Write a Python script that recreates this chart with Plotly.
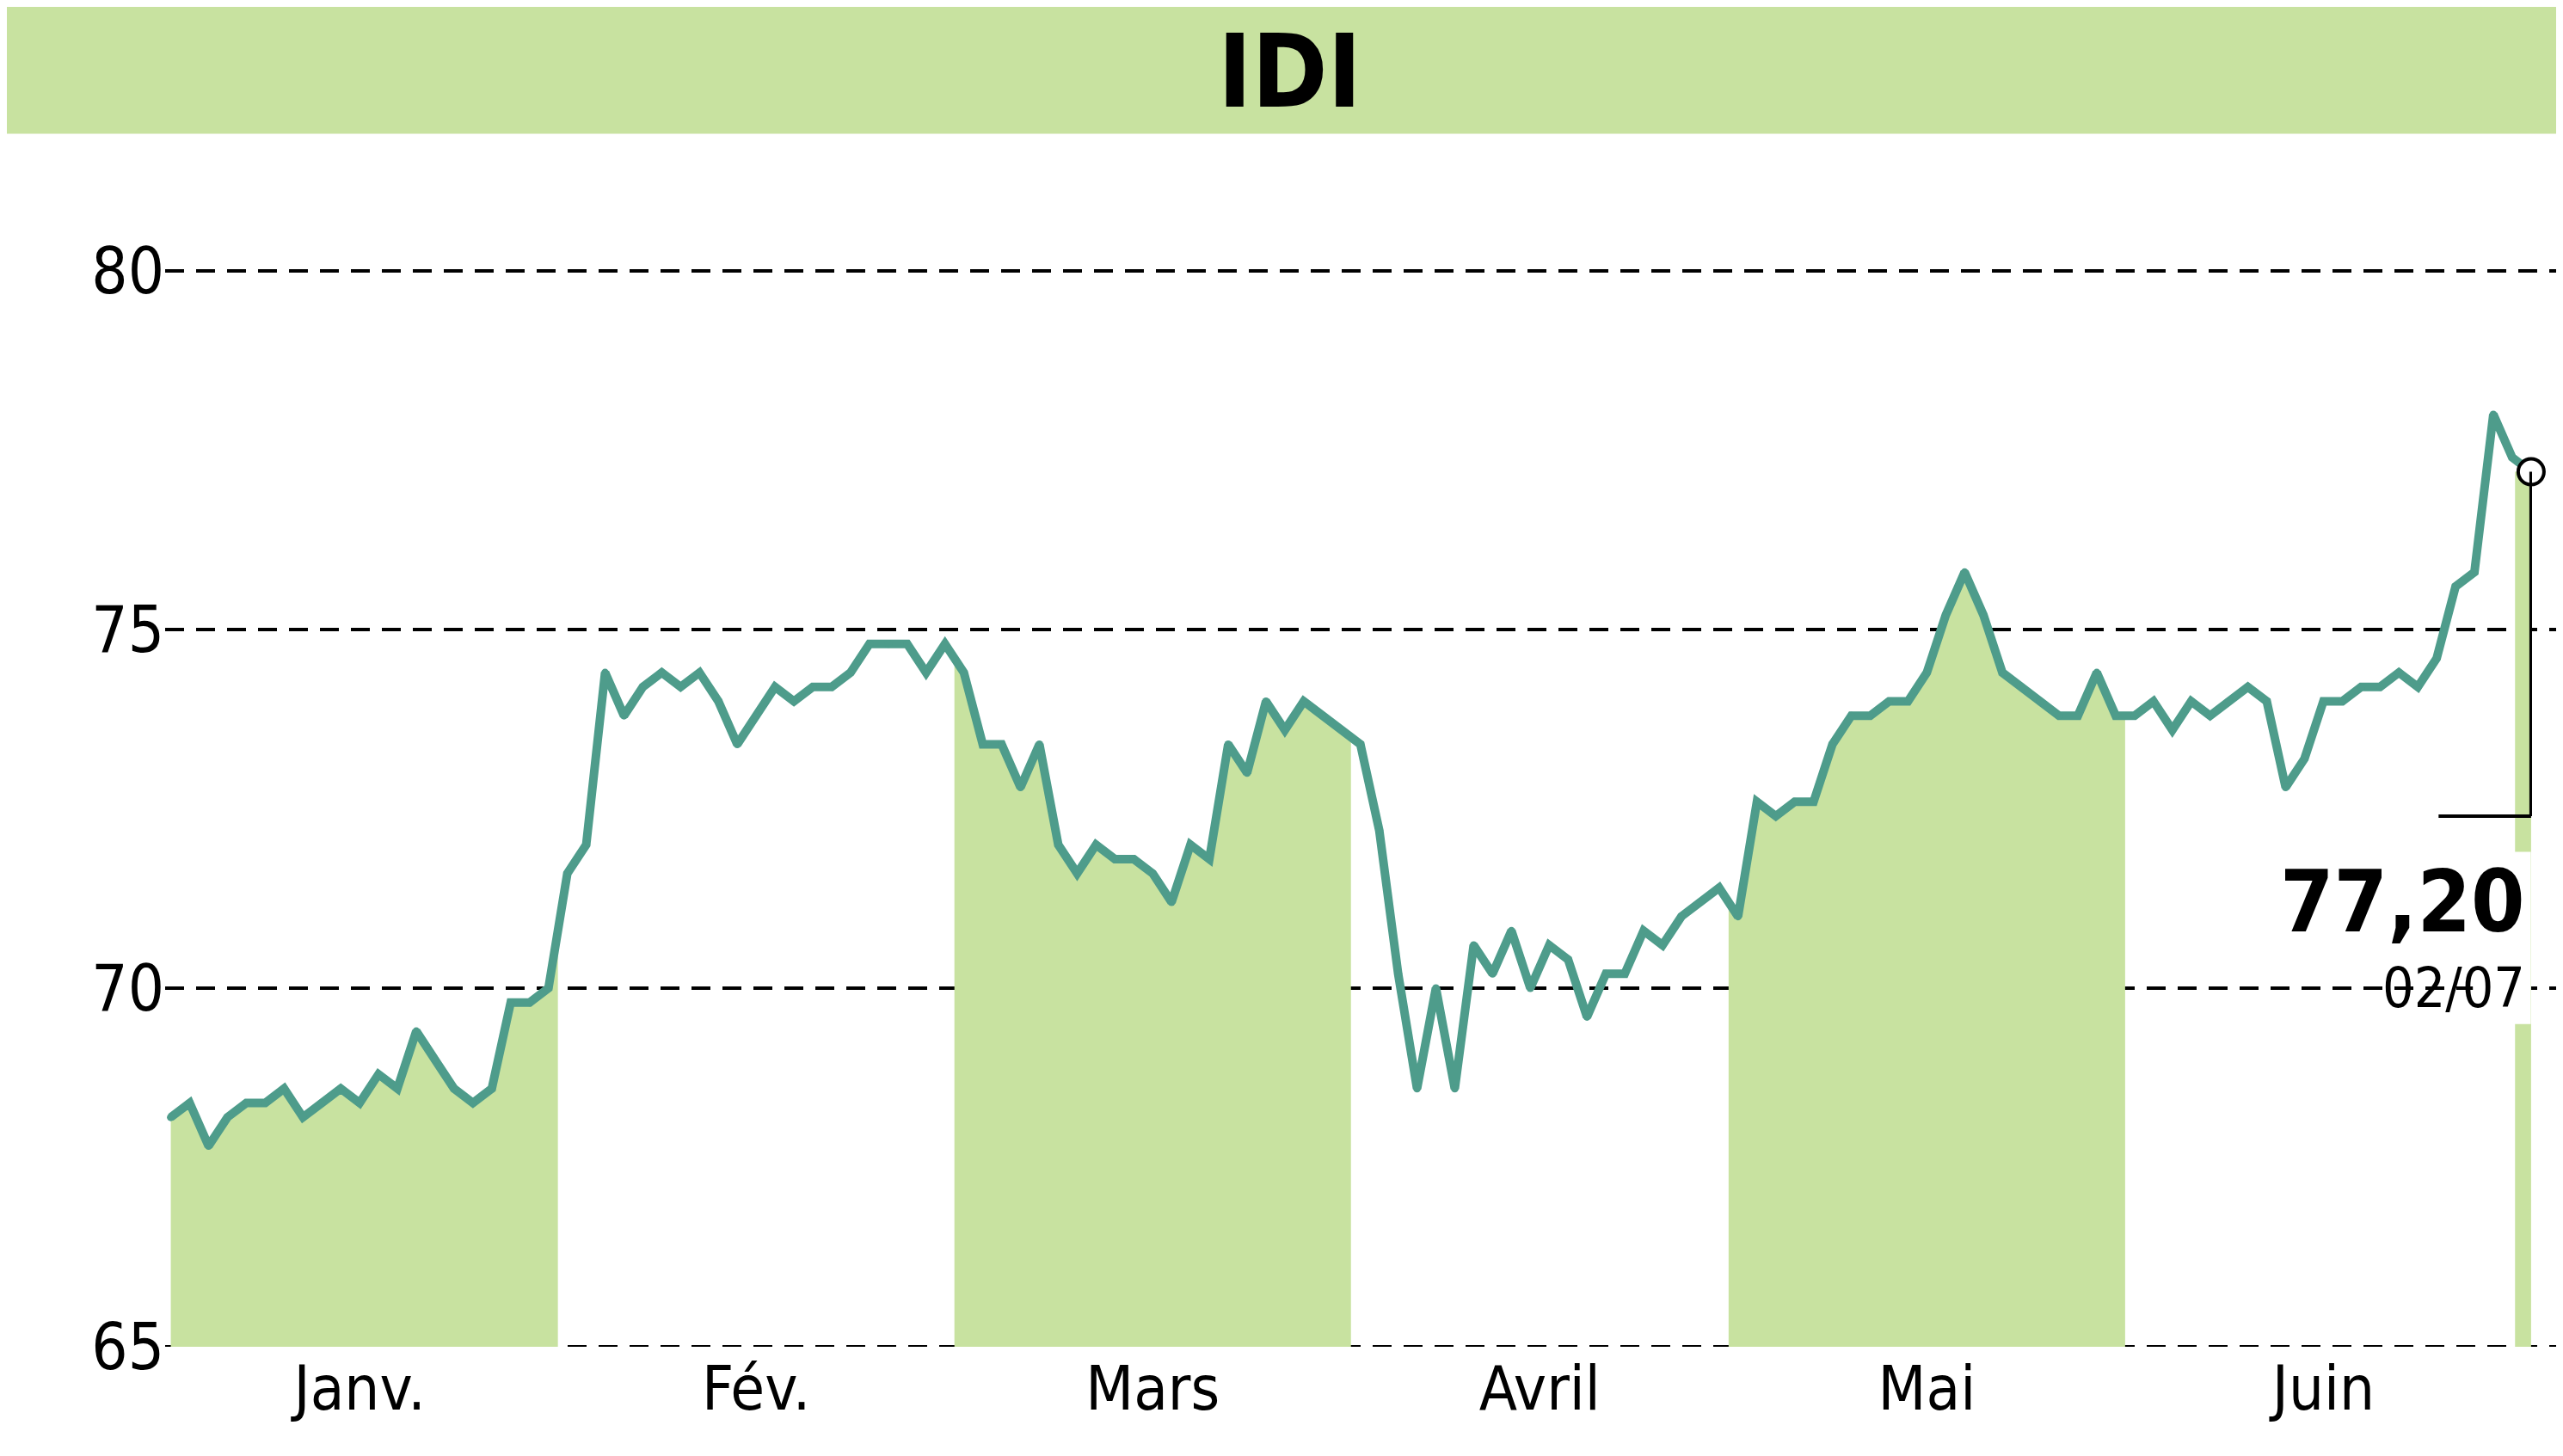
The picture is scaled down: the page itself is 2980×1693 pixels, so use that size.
import plotly.graph_objects as go

months = ["Janv.", "Fév.", "Mars", "Avril", "Mai", "Juin", "Juil."]
jan = [68.2,68.4,67.8,68.2,68.4,68.4,68.6,68.2,68.4,68.6,68.4,68.8,68.6,69.4,69.0,68.6,68.4,68.6,69.8,69.8,70.0]
feb = [71.6,72.0,74.4,73.8,74.2,74.4,74.2,74.4,74.0,73.4,73.8,74.2,74.0,74.2,74.2,74.4,74.8,74.8,74.8,74.4,74.8]
mar = [74.4,73.4,73.4,72.8,73.4,72.0,71.6,72.0,71.8,71.8,71.6,71.2,72.0,71.8,73.4,73.0,74.0,73.6,74.0,73.8,73.6]
apr = [73.4,72.2,70.2,68.6,70.0,68.6,70.6,70.2,70.8,70.0,70.6,70.4,69.6,70.2,70.2,70.8,70.6,71.0,71.2,71.4]
may = [71.0,72.6,72.4,72.6,72.6,73.4,73.8,73.8,74.0,74.0,74.4,75.2,75.8,75.2,74.4,74.2,74.0,73.8,73.8,74.4,73.8]
jun = [73.8,74.0,73.6,74.0,73.8,74.0,74.2,74.0,72.8,73.2,74.0,74.0,74.2,74.2,74.4,74.2,74.6,75.6,75.8,78.0,77.4]
jul = [77.2]
series = [jan, feb, mar, apr, may, jun, jul]
shaded = [True, False, True, False, True, False, True]
yticks = [65, 70, 75, 80]
last_label, last_date = "77,20", "02/07"

vals = [v for m in series for v in m]
n = len(vals)
xs = list(range(n))
GREEN = "#c8e2a0"
LINE = "#4e9c8b"

fig = go.Figure()
starts = []
s = 0
for m in series:
    starts.append(s)
    s += len(m)
for i, m in enumerate(series):
    a, b = starts[i], starts[i] + len(m) - 1
    if not shaded[i]:
        continue
    fx, fy = [], []
    if a > 0:
        fx.append(a - 0.5); fy.append((vals[a-1] + vals[a]) / 2)
    fx += xs[a:b+1]; fy += vals[a:b+1]
    if b < n - 1:
        fx.append(b + 0.5); fy.append((vals[b] + vals[b+1]) / 2)
    elif i == len(series) - 1:
        fx = [b - 0.85, b]; fy = [vals[b], vals[b]]
    fig.add_trace(go.Scatter(x=fx, y=fy, fill="tozeroy", fillcolor=GREEN,
                             mode="none", hoverinfo="skip", showlegend=False))

fig.add_trace(go.Scatter(x=xs, y=vals, mode="lines+markers",
                         line=dict(color=LINE, width=10),
                         marker=dict(color=LINE, size=9), showlegend=False))

shapes = []
for t in yticks:
    shapes.append(dict(type="line", xref="paper", yref="y", x0=0, x1=1.02, y0=t, y1=t,
                       line=dict(color="black", width=4, dash="22px,14px"), layer="below"))
shapes.append(dict(type="rect", xref="paper", yref="paper", x0=-0.1, x1=1.03, y0=1.025, y1=1.17,
                   fillcolor=GREEN, line=dict(width=0), layer="below"))
shapes.append(dict(type="rect", xref="paper", yref="y", x0=0.975, x1=0.9995, y0=69.5, y1=71.9,
                   fillcolor="white", line=dict(width=0)))
shapes.append(dict(type="line", xref="x", yref="y", x0=n-1, x1=n-1, y0=vals[-1], y1=72.4,
                   line=dict(color="black", width=4)))
shapes.append(dict(type="line", xref="x", yref="y", x0=n-1, x1=n-1-4.9, y0=72.4, y1=72.4,
                   line=dict(color="black", width=4)))

fig.add_trace(go.Scatter(x=[n-1], y=[vals[-1]], mode="markers", cliponaxis=False,
                         marker=dict(color="white", size=30, line=dict(color="black", width=4)),
                         showlegend=False))

centers = [starts[i] + (len(m) - 1) / 2 for i, m in enumerate(series)]
FONT = "DejaVu Sans Condensed"
fig.update_layout(
    width=2980, height=1693, paper_bgcolor="white", plot_bgcolor="white",
    margin=dict(l=184, r=44, t=182, b=135), shapes=shapes,
    xaxis=dict(range=[-0.3, n-1+0.05], tickvals=centers[:6], ticktext=months[:6],
               showgrid=False, zeroline=False, showline=False, ticks="",
               tickfont=dict(family=FONT, size=72, color="black")),
    yaxis=dict(range=[65, 81.5], tickvals=yticks, showgrid=False, zeroline=False,
               ticks="", tickfont=dict(family=FONT, size=74, color="black")),
    annotations=[
        dict(text="<b>IDI</b>", xref="paper", yref="paper", x=0.475, y=1.078,
             xanchor="center", yanchor="middle",
             showarrow=False, font=dict(family=FONT, size=118, color="black")),
        dict(text="<b>" + last_label + "</b>", xref="paper", yref="y", x=0.998, y=71.2,
             xanchor="right", yanchor="middle", showarrow=False,
             font=dict(family=FONT, size=100, color="black")),
        dict(text=last_date, xref="paper", yref="y", x=0.998, y=70.0,
             xanchor="right", yanchor="middle", showarrow=False,
             font=dict(family=FONT, size=64, color="black")),
    ],
)
fig.write_html("out.html")
